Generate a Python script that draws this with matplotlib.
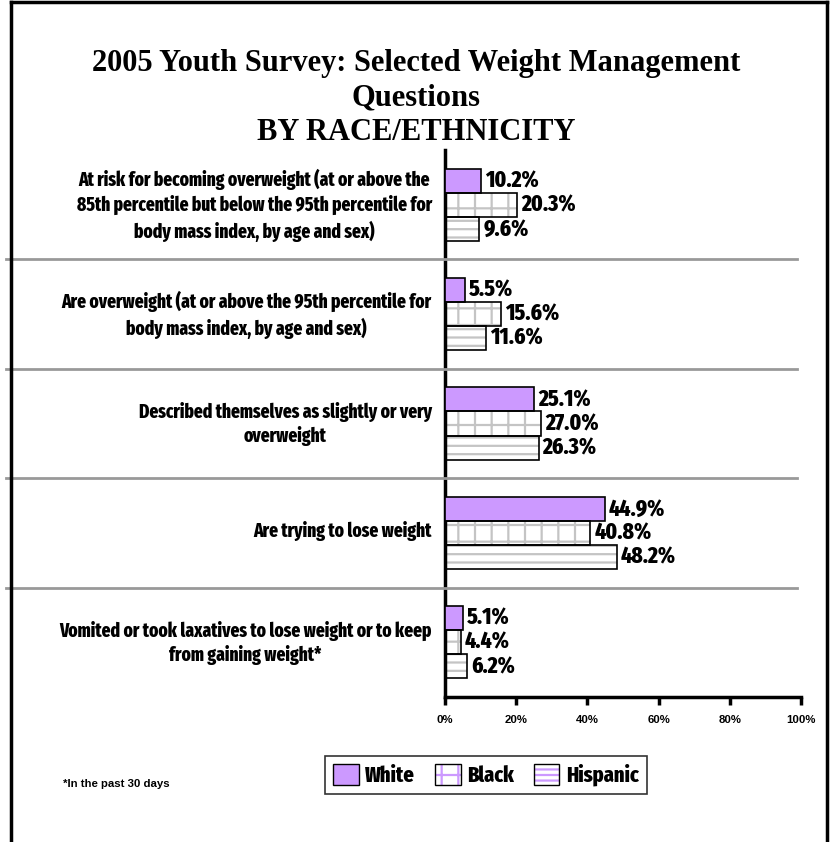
import matplotlib
matplotlib.use("Agg")
import matplotlib.pyplot as plt
from matplotlib import font_manager
from matplotlib.textpath import TextPath
from matplotlib.patches import Patch
from matplotlib.lines import Line2D
import numpy as np

# ---- data ----
questions = [
    "At risk for becoming overweight (at or above the\n85th percentile but below the 95th percentile for\nbody mass index, by age and sex)",
    "Are overweight (at or above the 95th percentile for\nbody mass index, by age and sex)",
    "Described themselves as slightly or very\noverweight",
    "Are trying to lose weight",
    "Vomited or took laxatives to lose weight or to keep\nfrom gaining weight*",
]
groups = ["White", "Black", "Hispanic"]
white = [10.2, 5.5, 25.1, 44.9, 5.1]
black = [20.3, 15.6, 27.0, 40.8, 4.4]
hispanic = [9.6, 11.6, 26.3, 48.2, 6.2]
x_ticks = [0, 20, 40, 60, 80, 100]
x_ticklabels = ["0%", "20%", "40%", "60%", "80%", "100%"]

DPI = 100


def text_width_px(s, fp, size):
    tp = TextPath((0, 0), s, size=size, prop=fp)
    return tp.get_extents().width * DPI / 72


# choose a bold narrow sans face, about as condensed as a typical "narrow" cut
def narrow_bold_font():
    sample = questions[0].split("\n")[0]
    regular = font_manager.FontProperties(family="Liberation Sans", weight="bold")
    ref_w = text_width_px(sample, regular, 10)
    goal = 0.82 * ref_w
    best, best_err = regular, abs(ref_w - goal)
    for f in font_manager.fontManager.ttflist:
        nm = f.name.lower()
        fn = f.fname.lower()
        if any(k in nm or k in fn for k in ("mono", "serif", "cjk", "code")):
            continue
        if f.style != "normal":
            continue
        w = f.weight if isinstance(f.weight, int) else \
            font_manager.weight_dict.get(str(f.weight), 400)
        named = "narrow" in nm or "condensed" in nm or "condensed" in fn
        stretched = str(f.stretch) in ("condensed", "semi-condensed")
        if not (named or stretched) or w < 600 or w > 800:
            continue
        fp = font_manager.FontProperties(fname=f.fname)
        try:
            wd = text_width_px(sample, fp, 10)
        except Exception:
            continue
        if wd < 0.7 * ref_w:
            continue
        err = abs(wd - goal)
        if err < best_err:
            best, best_err = fp, err
    return best


BASE = narrow_bold_font()


def narrow_fit(sample, target_px):
    size = 10 * target_px / text_width_px(sample, BASE, 10)
    fp = BASE.copy()
    fp.set_size(size)
    return fp


SERIF = ["Liberation Serif", "DejaVu Serif"]
SANS = ["Liberation Sans", "DejaVu Sans"]

plt.rcParams["hatch.linewidth"] = 1.6

W, H = 832, 842
fig = plt.figure(figsize=(W / DPI, H / DPI), dpi=DPI)


def fx(px):
    return px / W


def fy(py):
    return 1 - py / H


ax = fig.add_axes([fx(445), fy(697), fx(801) - fx(445), fy(150) - fy(697)])

value_fp = narrow_fit("25.1%", 52)
series = [
    (white, "#cc99ff", None),
    (black, "white", "+"),
    (hispanic, "white", "--"),
]
bh = 0.22
centers = np.arange(len(questions)) + 0.5
for k, (vals, fc, hatch) in enumerate(series):
    ys = centers + (k - 1) * bh
    if hatch:
        ax.barh(ys, vals, height=bh, color=fc, edgecolor="#c4c4c4",
                hatch=hatch, linewidth=0, zorder=2)
        ax.barh(ys, vals, height=bh, fill=False, edgecolor="black",
                linewidth=1.2, zorder=3)
    else:
        ax.barh(ys, vals, height=bh, color=fc, edgecolor="black",
                linewidth=1.2, zorder=3)
    for y, v in zip(ys, vals):
        ax.annotate(f"{v:.1f}%", (v, y), xytext=(3, 0), textcoords="offset points",
                    ha="left", va="center", fontproperties=value_fp, zorder=4)

ax.set_xlim(0, 100)
ax.set_ylim(len(questions), 0)
ax.set_xticks(x_ticks)
ax.set_xticklabels(x_ticklabels, fontsize=8.2, fontweight="bold", family=SANS)
ax.tick_params(axis="x", length=6, width=2.5, pad=7, direction="out")

# question labels: centred lines, set slightly above each group's middle
label_fp = narrow_fit(questions[0].split("\n")[0], 351)
label_px = label_fp.get_size() * DPI / 72
ax.set_yticks(centers - 0.035)
ax.set_yticklabels(questions, fontproperties=label_fp,
                   linespacing=26 / (label_px * 1.06))
for lbl in ax.get_yticklabels():
    lbl.set_multialignment("center")
ax.tick_params(axis="y", length=0, pad=9.5)
for s in ["top", "right"]:
    ax.spines[s].set_visible(False)
ax.spines["left"].set_linewidth(2.5)
ax.spines["bottom"].set_linewidth(2.5)
ax.set_facecolor("none")

# separators between question groups
for i in range(1, len(questions)):
    ypx = 150 + (697 - 150) * i / len(questions)
    fig.add_artist(Line2D([fx(6), fx(797)], [fy(ypx), fy(ypx)],
                          color="#999999", linewidth=2, zorder=1))

# outer frame (left, top, right)
frame_kw = dict(color="black", linewidth=2.5)
fig.add_artist(Line2D([fx(11), fx(11)], [0, fy(2)], **frame_kw))
fig.add_artist(Line2D([fx(11), fx(827)], [fy(2), fy(2)], **frame_kw))
fig.add_artist(Line2D([fx(827), fx(827)], [fy(2), 0], **frame_kw))

# title
title_kw = dict(ha="center", va="center", fontsize=22, fontweight="bold", family=SERIF)
fig.text(fx(416), fy(64), "2005 Youth Survey: Selected Weight Management", **title_kw)
fig.text(fx(416), fy(98), "Questions", **title_kw)
fig.text(fx(416), fy(132), "BY RACE/ETHNICITY", **title_kw)

# legend
handles = [
    Patch(facecolor="#cc99ff", edgecolor="black", linewidth=1),
    (Patch(facecolor="white", edgecolor="#cc99ff", hatch="+", linewidth=0),
     Patch(fill=False, edgecolor="black", linewidth=1)),
    (Patch(facecolor="white", edgecolor="#cc99ff", hatch="---", linewidth=0),
     Patch(fill=False, edgecolor="black", linewidth=1)),
]
leg = fig.legend(handles, groups, loc="center", bbox_to_anchor=(fx(486), fy(775)),
                 ncol=3, frameon=True, fancybox=False, edgecolor="black",
                 prop=narrow_fit("Hispanic", 72), handlelength=1.15,
                 handleheight=1.1, handletextpad=0.3, columnspacing=0.9,
                 borderpad=0.35, borderaxespad=0)
leg.get_frame().set_linewidth(1.2)

fig.text(fx(63), fy(784), "*In the past 30 days", ha="left", va="center",
         fontsize=8.2, fontweight="bold", family=SANS)

fig.savefig("out.png", dpi=DPI)
